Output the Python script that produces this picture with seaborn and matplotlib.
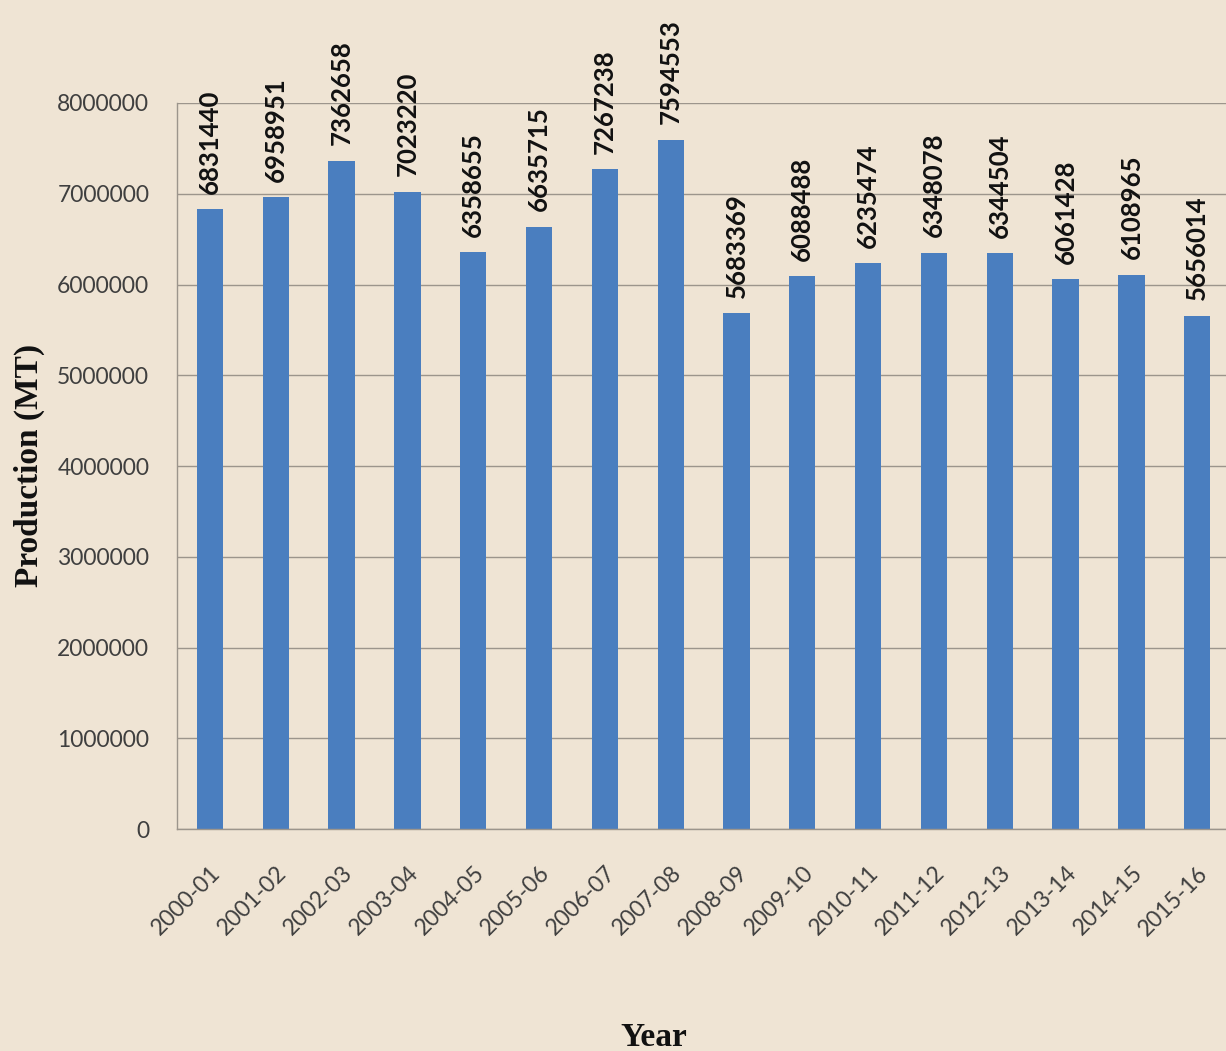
import numpy as np
import pandas as pd
import matplotlib
matplotlib.use("Agg")
import matplotlib.pyplot as plt
import seaborn as sns


# ==========================================
# DATA
# ==========================================

years = [
    "2000-01", "2001-02", "2002-03", "2003-04",
    "2004-05", "2005-06", "2006-07", "2007-08",
    "2008-09", "2009-10", "2010-11", "2011-12",
    "2012-13", "2013-14", "2014-15", "2015-16"
]

production = [
    6831440, 6958951, 7362658, 7023220,
    6358655, 6635715, 7267238, 7594553,
    5683369, 6088488, 6235474, 6348078,
    6344504, 6061428, 6108965, 5656014
]

y_ticks = [0, 1000000, 2000000, 3000000, 4000000,
           5000000, 6000000, 7000000, 8000000]

df = pd.DataFrame({"Year": years, "Production": production})

# ==========================================
# STYLE
# ==========================================

bg = "#EFE4D4"
bar_color = "#4A7EBF"
text_color = "#3F3F3F"
grid_color = "#9C958C"

sns.set_style("white")
plt.rcParams["font.family"] = ["Lato", "DejaVu Sans"]

fig = plt.figure(figsize=(12.26, 10.51), dpi=100)
fig.patch.set_facecolor(bg)

ax = fig.add_axes([0.1444, 0.2112, 0.859, 0.6908])
ax.set_facecolor(bg)

# ==========================================
# PLOT
# ==========================================

sns.barplot(
    data=df,
    x="Year",
    y="Production",
    color=bar_color,
    saturation=1,
    width=0.4,
    linewidth=0,
    ax=ax
)

ax.set_xlim(-0.5, len(years) - 0.5)
ax.set_ylim(0, 8000000)
ax.set_yticks(y_ticks)
ax.set_yticklabels([str(v) for v in y_ticks], fontsize=16.5, color=text_color)

ax.grid(axis="y", color=grid_color, linewidth=1)
ax.set_axisbelow(True)

for side in ["top", "right"]:
    ax.spines[side].set_visible(False)
for side in ["left", "bottom"]:
    ax.spines[side].set_color(grid_color)
    ax.spines[side].set_linewidth(1)

# tick marks at category boundaries
ax.set_xticks(np.arange(len(years)))
ax.set_xticks(np.arange(len(years) + 1) - 0.5, minor=True)
ax.tick_params(axis="x", which="major", length=0, pad=24)
ax.tick_params(axis="x", which="minor", length=6, color=grid_color,
               direction="out")
ax.tick_params(axis="y", length=10, color=grid_color, direction="out", pad=10)

ax.set_xticklabels(years, rotation=45, ha="right", rotation_mode="anchor",
                   fontsize=16.5, color=text_color)

# value labels
for i, v in enumerate(production):
    ax.text(
        i, v + 170000, str(v),
        rotation=90, ha="center", va="bottom",
        fontsize=18.5, fontweight="bold", color="#111111",
        clip_on=False
    )

ax.set_xlabel("")
ax.set_ylabel("")

fig.text(0.024, 0.5576, "Production (MT)", rotation=90, ha="center",
         va="center", fontsize=24, fontweight="bold",
         family=["Liberation Serif", "DejaVu Serif"], color="#111111")

fig.text(0.533, 0.0133, "Year", ha="center", va="center",
         fontsize=24, fontweight="bold",
         family=["Liberation Serif", "DejaVu Serif"], color="#111111")

plt.savefig("out.png", dpi=100, facecolor=bg)
